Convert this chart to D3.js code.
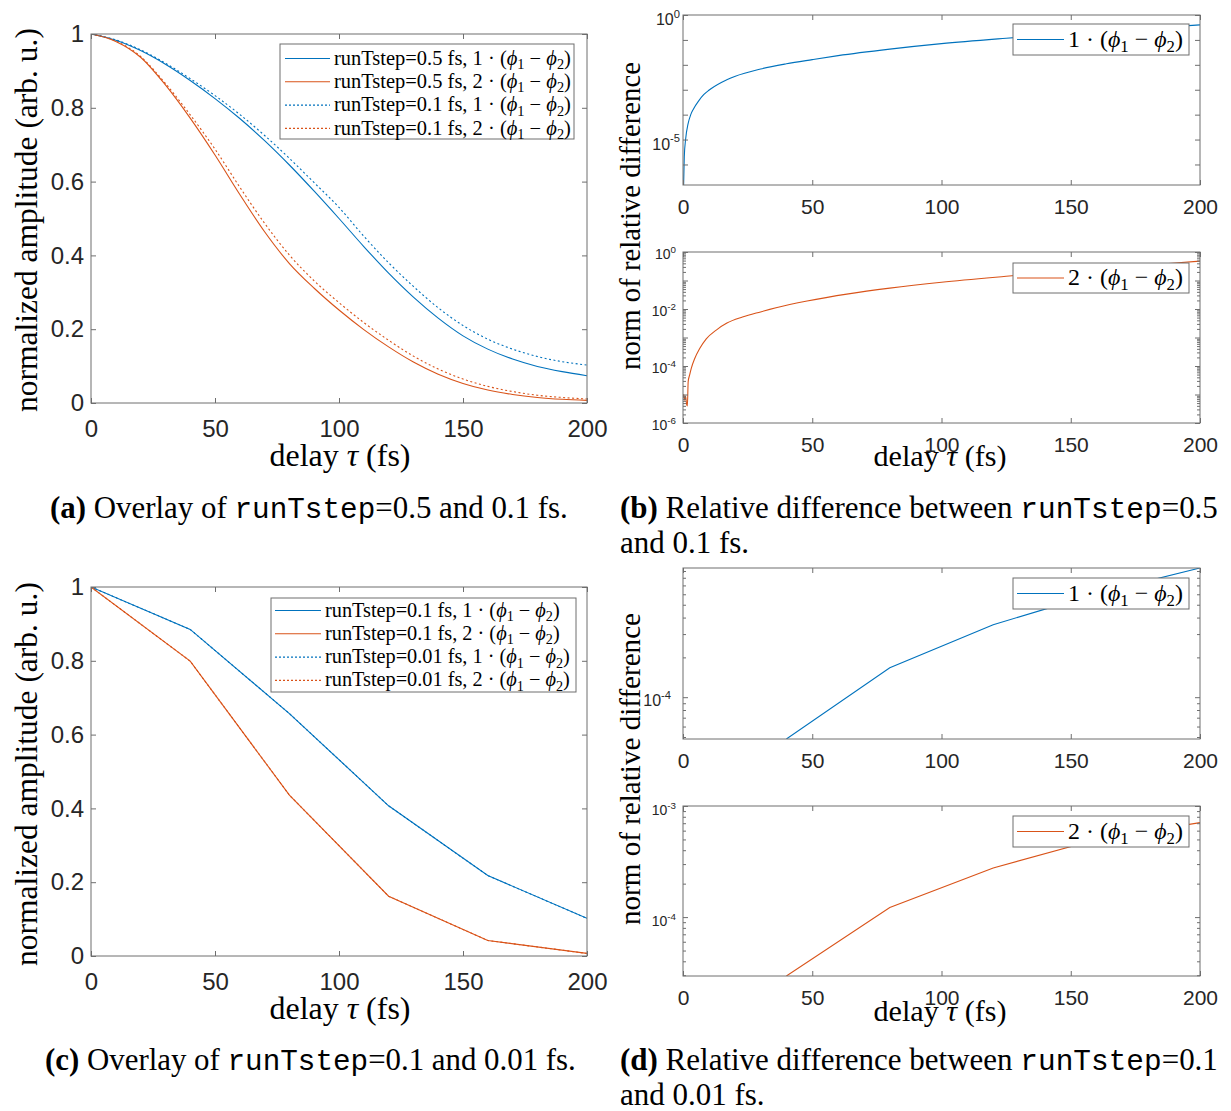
<!DOCTYPE html>
<html>
<head>
<meta charset="utf-8">
<script src="https://cdn.jsdelivr.net/npm/d3@7"></script>
<style>
  body { margin: 0; background: #fff; }
</style>
</head>
<body>
<svg id="fig" width="1231" height="1111"></svg>
<script>
// ---- data ----
let xTicks = [0, 50, 100, 150, 200]
let yTicksLin = [0, 0.2, 0.4, 0.6, 0.8, 1]

// (a) runTstep = 0.5 fs vs 0.1 fs
let tA = [0, 10, 20, 30, 40, 50, 60, 70, 80, 90, 100, 110, 120, 130, 140, 150, 160, 170, 180, 190, 200]
let a05_1 = [1, 0.983, 0.955, 0.918, 0.874, 0.825, 0.771, 0.711, 0.645, 0.574, 0.500, 0.424, 0.352, 0.287, 0.230, 0.182, 0.146, 0.119, 0.099, 0.085, 0.074]
let a05_2 = [1, 0.980, 0.937, 0.862, 0.772, 0.672, 0.565, 0.464, 0.378, 0.311, 0.252, 0.199, 0.152, 0.111, 0.078, 0.053, 0.035, 0.023, 0.015, 0.010, 0.007]
let a01_1 = [1, 0.984, 0.957, 0.921, 0.879, 0.833, 0.782, 0.725, 0.663, 0.597, 0.530, 0.452, 0.380, 0.316, 0.258, 0.210, 0.173, 0.146, 0.126, 0.112, 0.103]
let a01_2 = [1, 0.981, 0.939, 0.866, 0.781, 0.688, 0.585, 0.487, 0.401, 0.331, 0.272, 0.218, 0.170, 0.127, 0.092, 0.065, 0.045, 0.031, 0.021, 0.015, 0.011]
let legA = ["runTstep=0.5 fs, 1 · ", "runTstep=0.5 fs, 2 · ", "runTstep=0.1 fs, 1 · ", "runTstep=0.1 fs, 2 · "]

// (b) relative difference 0.5 vs 0.1 fs
let tB1 = [0.2, 0.5, 1, 2, 3, 4, 6, 8, 10, 15, 20, 30, 40, 50, 60, 80, 100, 125, 150, 175, 200]
let relB1 = [1e-7, 2.1e-6, 1.0e-5, 4.5e-5, 1.0e-4, 1.66e-4, 3.5e-4, 6.3e-4, 9.5e-4, 2.0e-3, 3.4e-3, 6.8e-3, 1.1e-2, 1.62e-2, 2.34e-2, 4.27e-2, 7.1e-2, 0.117, 0.182, 0.275, 0.40]
let tB2 = [0, 0.3, 0.6, 1.0, 1.4, 1.7, 2.0, 2.6, 3.2, 4.5, 6.4, 9, 13, 17, 23, 30, 36, 48, 64, 80, 100, 125, 150, 175, 200]
let relB2 = [7.9e-6, 1.0e-5, 6.3e-6, 8.9e-6, 4.5e-6, 4.0e-6, 2.8e-5, 5.0e-5, 8.3e-5, 1.8e-4, 4.0e-4, 8.9e-4, 1.86e-3, 3.2e-3, 5.2e-3, 7.9e-3, 1.1e-2, 1.9e-2, 3.4e-2, 5.4e-2, 8.7e-2, 0.141, 0.219, 0.324, 0.479]

// (c) runTstep = 0.1 fs vs 0.01 fs
let tC = [0, 40, 80, 120, 160, 200]
let c01_1 = [1, 0.885, 0.657, 0.407, 0.218, 0.102]
let c01_2 = [1, 0.799, 0.436, 0.162, 0.042, 0.007]
let c001_1 = [1, 0.885, 0.657, 0.407, 0.218, 0.102]
let c001_2 = [1, 0.799, 0.436, 0.162, 0.042, 0.007]
let legC = ["runTstep=0.1 fs, 1 · ", "runTstep=0.1 fs, 2 · ", "runTstep=0.01 fs, 1 · ", "runTstep=0.01 fs, 2 · "]

// (d) relative difference 0.1 vs 0.01 fs
let tD = [40, 80, 120, 160, 200]
let relD1 = [4.83e-5, 1.67e-4, 3.53e-4, 6.07e-4, 9.48e-4]
let relD2 = [2.95e-5, 1.22e-4, 2.77e-4, 5.0e-4, 7.08e-4]

// ---- styling ----
const BLUE = "#0072BD", ORANGE = "#D95319", AX = "#6e6e6e", INK = "#262626"
const SERIF = "'Liberation Serif', 'DejaVu Serif', serif"
const SANS = "'Liberation Sans', Arial, sans-serif"
const MONO = "'Liberation Mono', 'DejaVu Sans Mono', monospace"

let svg = d3.select("#fig")
svg.append("rect").attr("width", 1231).attr("height", 1111).attr("fill", "#fff")
let clipCount = 0

function clipFor(box) {
  let id = "clip" + (clipCount++)
  svg.append("clipPath").attr("id", id).append("rect")
    .attr("x", box.l).attr("y", box.t).attr("width", box.r - box.l).attr("height", box.b - box.t)
  return "url(#" + id + ")"
}

function styleAxis(sel, fs) {
  sel.select(".domain").remove()
  sel.selectAll("line").attr("stroke", AX)
  sel.selectAll("text").attr("fill", INK).attr("font-family", SANS).attr("font-size", fs)
}

// x axis on bottom (labelled) and top (ticks only)
function frameX(box, x, o) {
  svg.append("g").attr("transform", `translate(0,${box.b})`)
    .call(d3.axisBottom(x).tickValues(xTicks).tickFormat(d => d).tickSizeInner(-5).tickSizeOuter(0).tickPadding(o.xPad))
    .call(s => styleAxis(s, o.tickFs))
  svg.append("g").attr("transform", `translate(0,${box.t})`)
    .call(d3.axisTop(x).tickValues(xTicks).tickFormat("").tickSizeInner(-5).tickSizeOuter(0))
    .call(s => styleAxis(s, o.tickFs))
}

function drawBox(box) {
  svg.append("rect").attr("x", box.l).attr("y", box.t)
    .attr("width", box.r - box.l).attr("height", box.b - box.t)
    .attr("fill", "none").attr("stroke", AX).attr("stroke-width", 1)
}

function drawLines(box, x, y, series, curve) {
  let clip = clipFor(box)
  series.forEach(s => {
    let pts = s.t.map((t, i) => [t, s.v[i]])
    svg.append("path").datum(pts)
      .attr("clip-path", clip)
      .attr("d", d3.line().x(d => x(d[0])).y(d => y(d[1])).curve(curve))
      .attr("fill", "none").attr("stroke", s.color).attr("stroke-width", 1.1)
      .attr("stroke-dasharray", s.dash ? "2,2.5" : null)
  })
}

function linPanel(box, series, curve) {
  let x = d3.scaleLinear().domain([0, 200]).range([box.l, box.r])
  let y = d3.scaleLinear().domain([0, 1]).range([box.b, box.t])
  drawLines(box, x, y, series, curve)
  frameX(box, x, { xPad: 17, tickFs: 24 })
  svg.append("g").attr("transform", `translate(${box.l},0)`)
    .call(d3.axisLeft(y).tickValues(yTicksLin).tickFormat(d => String(d)).tickSizeInner(-5).tickSizeOuter(0).tickPadding(7))
    .call(s => styleAxis(s, 24))
  svg.append("g").attr("transform", `translate(${box.r},0)`)
    .call(d3.axisRight(y).tickValues(yTicksLin).tickFormat("").tickSizeInner(-5).tickSizeOuter(0))
    .call(s => styleAxis(s, 24))
  drawBox(box)
}

function logPanel(box, domain, series, o) {
  let x = d3.scaleLinear().domain([0, 200]).range([box.l, box.r])
  let y = d3.scaleLog().domain(domain).range([box.b, box.t])
  drawLines(box, x, y, series, o.curve)
  frameX(box, x, { xPad: 14, tickFs: 21 })
  let lo = Math.floor(Math.log10(domain[0])), hi = Math.ceil(Math.log10(domain[1]))
  let decades = d3.range(lo, hi + 1).map(e => Math.pow(10, e)).filter(v => v >= domain[0] * 0.999 && v <= domain[1] * 1.001)
  let minor = []
  if (o.minor) {
    d3.range(lo, hi + 1).forEach(e => {
      for (let k = 2; k <= 9; k++) {
        let v = k * Math.pow(10, e)
        if (v > domain[0] && v < domain[1]) minor.push(v)
      }
    })
  }
  ;[["axisLeft", box.l], ["axisRight", box.r]].forEach(([fn, px]) => {
    svg.append("g").attr("transform", `translate(${px},0)`)
      .call(d3[fn](y).tickValues(decades).tickFormat("").tickSizeInner(-5).tickSizeOuter(0))
      .call(s => styleAxis(s, 14))
    if (minor.length) {
      svg.append("g").attr("transform", `translate(${px},0)`)
        .call(d3[fn](y).tickValues(minor).tickFormat("").tickSizeInner(-3).tickSizeOuter(0))
        .call(s => styleAxis(s, 14))
    }
  })
  // labelled decades: 10^e
  decades.forEach(v => {
    let e = Math.round(Math.log10(v))
    if (!o.labels.includes(e)) return
    let t = svg.append("text").attr("x", box.l - o.labDx).attr("y", y(v) + o.labDy)
      .attr("text-anchor", "end").attr("font-family", SANS).attr("fill", INK).attr("font-size", o.labFs)
    t.append("tspan").text("10")
    t.append("tspan").attr("font-size", o.labFs * 0.7).attr("dy", -o.labFs * 0.45).text(e === 0 ? "0" : "-" + Math.abs(e))
  })
  drawBox(box)
}

// ϕ-difference label with tspans
function phiLabel(sel, prefix, fs) {
  sel.selectAll("*").remove()
  sel.attr("font-size", fs)
  sel.append("tspan").text(prefix + "(")
  sel.append("tspan").attr("font-style", "italic").text("ϕ")
  sel.append("tspan").attr("font-size", fs * 0.7).attr("dy", fs * 0.22).text("1")
  sel.append("tspan").attr("dy", -fs * 0.22).text(" − ")
  sel.append("tspan").attr("font-style", "italic").text("ϕ")
  sel.append("tspan").attr("font-size", fs * 0.7).attr("dy", fs * 0.22).text("2")
  sel.append("tspan").attr("dy", -fs * 0.22).text(")")
}

// find the font size that makes a text block a given width
function fitSize(build, width) {
  let probe = svg.append("text").attr("font-family", SERIF)
  build(probe, 20)
  let len = probe.node().getComputedTextLength()
  probe.remove()
  return 20 * width / len
}

function legend(g, rows) {
  svg.append("rect").attr("x", g.x0).attr("y", g.y0).attr("width", g.x1 - g.x0).attr("height", g.y1 - g.y0)
    .attr("fill", "#fff").attr("stroke", AX).attr("stroke-width", 1)
  let fs = fitSize((s, f) => phiLabel(s, rows[g.fitRow].label, f), g.fitW)
  rows.forEach((r, i) => {
    let cy = g.ys[i]
    svg.append("line").attr("x1", g.lx0).attr("x2", g.lx1).attr("y1", cy).attr("y2", cy)
      .attr("stroke", r.color).attr("stroke-width", 1.1).attr("stroke-dasharray", r.dash ? "2,2" : null)
    let t = svg.append("text").attr("x", g.tx).attr("y", cy + fs * 0.3)
      .attr("font-family", SERIF).attr("fill", "#000")
    phiLabel(t, r.label, fs)
  })
}

function delayLabel(sel, fs) {
  sel.selectAll("*").remove()
  sel.attr("font-size", fs)
  sel.append("tspan").text("delay ")
  sel.append("tspan").attr("font-style", "italic").text("τ")
  sel.append("tspan").text(" (fs)")
}

function xLabel(cx, baseline, width) {
  let fs = fitSize(delayLabel, width)
  let t = svg.append("text").attr("x", cx).attr("y", baseline).attr("text-anchor", "middle")
    .attr("font-family", SERIF).attr("fill", "#000")
  delayLabel(t, fs)
}

function yLabel(str, cx, cy, width) {
  let fs = fitSize((s, f) => s.attr("font-size", f).text(str), width)
  svg.append("text").attr("transform", `translate(${cx},${cy}) rotate(-90)`)
    .attr("text-anchor", "middle").attr("font-family", SERIF).attr("font-size", fs).attr("fill", "#000").text(str)
}

function captionParts(sel, parts, fs) {
  sel.selectAll("*").remove()
  sel.attr("font-size", fs)
  parts.forEach(p => {
    let ts = sel.append("tspan").text(p.t)
    if (p.bold) ts.attr("font-weight", "bold")
    if (p.mono) ts.attr("font-family", MONO).attr("font-size", fs * 0.95)
  })
}

function caption(x, y, width, parts, second) {
  let fs = fitSize((s, f) => captionParts(s, parts, f), width)
  let t = svg.append("text").attr("x", x).attr("y", y).attr("font-family", SERIF).attr("fill", "#000")
  captionParts(t, parts, fs)
  if (second) {
    svg.append("text").attr("x", x).attr("y", y + 35).attr("font-family", SERIF).attr("font-size", fs)
      .attr("fill", "#000").text(second)
  }
}

// ---- panel (a) ----
let boxA = { l: 91, r: 587, t: 34, b: 403 }
linPanel(boxA, [
  { t: tA, v: a01_1, color: BLUE, dash: true },
  { t: tA, v: a01_2, color: ORANGE, dash: true },
  { t: tA, v: a05_1, color: BLUE },
  { t: tA, v: a05_2, color: ORANGE }
], d3.curveMonotoneX)
legend({ x0: 280, x1: 574, y0: 44, y1: 139, lx0: 285, lx1: 330, tx: 334, ys: [58.5, 81.8, 105.1, 128.4], fitW: 237, fitRow: 0 }, [
  { label: legA[0], color: BLUE }, { label: legA[1], color: ORANGE },
  { label: legA[2], color: BLUE, dash: true }, { label: legA[3], color: ORANGE, dash: true }
])
xLabel(340, 466, 141)
yLabel("normalized amplitude (arb. u.)", 37, 220, 384)

// ---- panel (c) ----
let boxC = { l: 91, r: 587, t: 587, b: 956 }
linPanel(boxC, [
  { t: tC, v: c001_1, color: BLUE, dash: true },
  { t: tC, v: c001_2, color: ORANGE, dash: true },
  { t: tC, v: c01_1, color: BLUE },
  { t: tC, v: c01_2, color: ORANGE }
], d3.curveLinear)
legend({ x0: 271, x1: 576, y0: 598, y1: 692, lx0: 275, lx1: 321, tx: 325, ys: [610.5, 633.8, 657.1, 680.4], fitW: 245, fitRow: 2 }, [
  { label: legC[0], color: BLUE }, { label: legC[1], color: ORANGE },
  { label: legC[2], color: BLUE, dash: true }, { label: legC[3], color: ORANGE, dash: true }
])
xLabel(340, 1019, 141)
yLabel("normalized amplitude (arb. u.)", 37, 774, 384)

// ---- panel (b) ----
let boxB1 = { l: 683, r: 1200, t: 15, b: 185 }
logPanel(boxB1, [1.5e-7, 1], [{ t: tB1, v: relB1, color: BLUE }],
  { curve: d3.curveMonotoneX, minor: false, labels: [0, -5], labFs: 16, labDx: 3, labDy: 10 })
legend({ x0: 1013, x1: 1189, y0: 24, y1: 55, lx0: 1017, lx1: 1064, tx: 1068, ys: [39.5], fitW: 115, fitRow: 0 },
  [{ label: "1 · ", color: BLUE }])
let boxB2 = { l: 683, r: 1200, t: 252, b: 423 }
logPanel(boxB2, [1e-6, 1], [{ t: tB2, v: relB2, color: ORANGE }],
  { curve: d3.curveMonotoneX, minor: true, labels: [0, -2, -4, -6], labFs: 14, labDx: 7, labDy: 7 })
legend({ x0: 1013, x1: 1189, y0: 263, y1: 293, lx0: 1017, lx1: 1064, tx: 1068, ys: [278], fitW: 115, fitRow: 0 },
  [{ label: "2 · ", color: ORANGE }])
xLabel(940, 466, 133)
yLabel("norm of relative difference", 640, 216, 308)

// ---- panel (d) ----
let boxD1 = { l: 683, r: 1200, t: 568, b: 739 }
logPanel(boxD1, d3.extent(relD1), [{ t: tD, v: relD1, color: BLUE }],
  { curve: d3.curveLinear, minor: true, labels: [-3, -4], labFs: 16, labDx: 12, labDy: 9 })
legend({ x0: 1013, x1: 1189, y0: 578, y1: 609, lx0: 1017, lx1: 1064, tx: 1068, ys: [593.5], fitW: 115, fitRow: 0 },
  [{ label: "1 · ", color: BLUE }])
let boxD2 = { l: 683, r: 1200, t: 806, b: 976 }
logPanel(boxD2, [relD2[0], 1e-3], [{ t: tD, v: relD2, color: ORANGE }],
  { curve: d3.curveLinear, minor: true, labels: [-3, -4], labFs: 14, labDx: 7, labDy: 9 })
legend({ x0: 1013, x1: 1189, y0: 816, y1: 847, lx0: 1017, lx1: 1064, tx: 1068, ys: [831.5], fitW: 115, fitRow: 0 },
  [{ label: "2 · ", color: ORANGE }])
xLabel(940, 1021, 133)
yLabel("norm of relative difference", 640, 769, 312)

// ---- captions ----
caption(50, 518, 518, [{ t: "(a)", bold: true }, { t: " Overlay of " }, { t: "runTstep", mono: true }, { t: "=0.5 and 0.1 fs." }])
caption(620, 518, 598, [{ t: "(b)", bold: true }, { t: " Relative difference between " }, { t: "runTstep", mono: true }, { t: "=0.5" }], "and 0.1 fs.")
caption(45, 1070, 531, [{ t: "(c)", bold: true }, { t: " Overlay of " }, { t: "runTstep", mono: true }, { t: "=0.1 and 0.01 fs." }])
caption(620, 1070, 598, [{ t: "(d)", bold: true }, { t: " Relative difference between " }, { t: "runTstep", mono: true }, { t: "=0.1" }], "and 0.01 fs.")
</script>
</body>
</html>
